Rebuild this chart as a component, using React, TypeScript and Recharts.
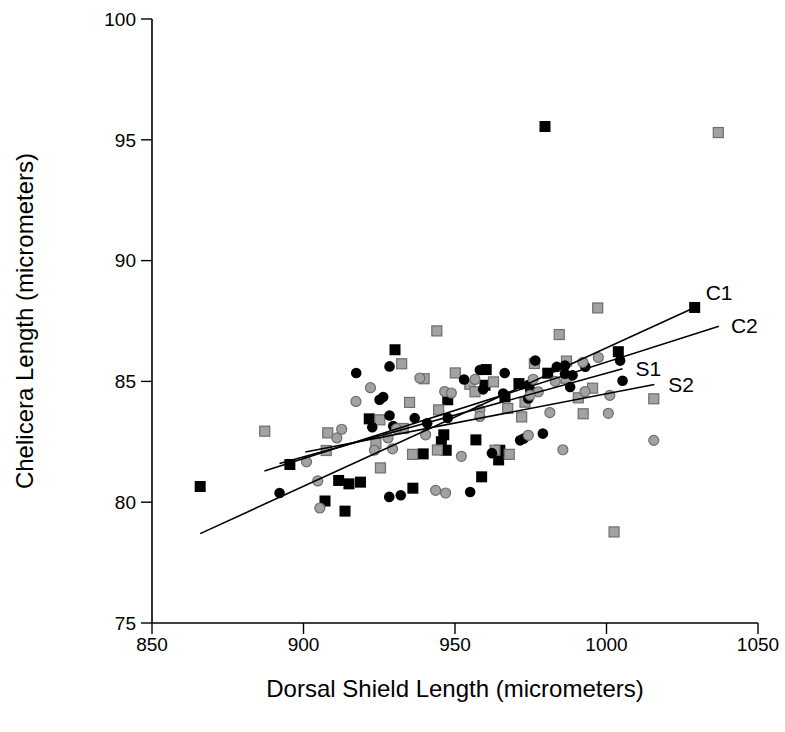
import React from "react";
import { ScatterChart, Scatter, XAxis, YAxis, LabelList } from "recharts";

// C1 group (black squares)
const blackSquares: [number, number][] = [
  [865.9, 80.65], [895.5, 81.56], [907.1, 80.05], [911.6, 80.9], [913.7, 79.63],
  [915.0, 80.76], [918.8, 80.83], [921.7, 83.45], [930.2, 86.31], [936.1, 80.58],
  [939.5, 82.0], [946.3, 82.79], [945.5, 82.5], [947.1, 82.15], [947.6, 84.24],
  [956.9, 82.58], [958.8, 81.05], [960.3, 85.49], [959.9, 84.84], [964.8, 82.15],
  [964.4, 81.75], [966.5, 84.36], [971.1, 84.91], [979.7, 95.55], [980.6, 85.34],
  [1003.9, 86.23], [1029.1, 88.06],
];

// C2 group (grey squares)
const greySquares: [number, number][] = [
  [887.2, 82.94], [908.0, 82.87], [907.5, 82.14], [925.4, 81.42], [923.9, 82.43],
  [925.2, 83.41], [932.9, 83.05], [932.4, 85.73], [935.0, 84.13], [939.8, 85.11],
  [944.0, 87.09], [944.6, 83.82], [936.0, 81.98], [944.2, 82.16], [950.1, 85.35],
  [954.9, 84.88], [956.6, 84.57], [962.7, 84.98], [967.4, 83.88], [972.0, 83.53],
  [973.1, 84.14], [976.2, 85.74], [963.2, 82.15], [967.9, 81.98], [986.8, 85.84],
  [986.7, 85.13], [984.4, 86.94], [997.1, 88.04], [995.4, 84.72], [990.7, 84.32],
  [992.3, 83.66], [1015.6, 84.28], [1002.5, 78.77], [1036.9, 95.3],
];

// S1 group (black circles)
const blackCircles: [number, number][] = [
  [892.1, 80.38], [917.4, 85.35], [928.4, 85.62], [925.1, 84.24], [926.3, 84.35],
  [928.4, 83.59], [922.7, 83.1], [929.6, 83.15], [936.7, 83.48], [940.8, 83.27],
  [928.3, 80.22], [932.1, 80.29], [955.0, 80.42], [953.0, 85.08], [958.2, 85.47],
  [966.4, 85.35], [959.3, 84.67], [965.9, 84.5], [947.6, 83.49], [962.2, 82.03],
  [971.5, 82.56], [972.6, 82.63], [976.5, 85.86], [974.2, 84.85], [974.8, 84.66],
  [974.2, 84.29], [983.6, 85.6], [986.3, 85.66], [986.3, 85.32], [988.8, 85.25],
  [988.0, 84.77], [993.0, 85.61], [1004.5, 85.86], [1005.3, 85.03], [979.0, 82.84],
];

// S2 group (grey circles)
const greyCircles: [number, number][] = [
  [901.0, 81.67], [904.7, 80.88], [905.4, 79.76], [911.0, 82.66], [912.6, 83.02],
  [917.3, 84.17], [922.1, 84.74], [923.4, 82.15], [927.9, 82.66], [929.4, 82.21],
  [930.7, 83.04], [938.4, 85.14], [940.3, 82.79], [943.6, 80.49], [946.9, 80.38],
  [946.6, 84.58], [948.8, 84.52], [952.1, 81.9], [956.6, 85.08], [958.2, 83.82],
  [958.2, 83.55], [974.2, 82.77], [975.8, 85.09], [977.5, 84.57], [974.8, 84.43],
  [981.3, 83.71], [983.1, 85.0], [985.6, 82.17], [992.2, 85.79], [997.3, 85.99],
  [992.9, 84.58], [1001.1, 84.42], [1000.6, 83.68], [1015.6, 82.56],
];

// fitted lines, start and end points
const lineC1: [number, number][] = [[865.9, 78.7], [1029.1, 88.06]];
const lineC2: [number, number][] = [[887.1, 81.29], [1037.1, 87.28]];
const lineS1: [number, number][] = [[892.1, 81.6], [1005.3, 85.52]];
const lineS2: [number, number][] = [[900.6, 82.08], [1015.8, 84.87]];

const xTicks = [850, 900, 950, 1000, 1050];
const yTicks = [75, 80, 85, 90, 95, 100];

const toPts = (arr: [number, number][]) => arr.map(([x, y]) => ({ x, y }));

const FONT = "'Liberation Sans', Arial, Helvetica, sans-serif";
const GREY = "#a2a2a2";
const GREY_EDGE = "#6e6e6e";

const BlackSquare = (p: any) => (
  <rect x={p.cx - 5.5} y={p.cy - 5.5} width={11} height={11} fill="#000" />
);
const GreySquare = (p: any) => (
  <rect x={p.cx - 5} y={p.cy - 5} width={10} height={10} fill={GREY} stroke={GREY_EDGE} strokeWidth={1.2} />
);
const BlackCircle = (p: any) => <circle cx={p.cx} cy={p.cy} r={5.3} fill="#000" />;
const GreyCircle = (p: any) => (
  <circle cx={p.cx} cy={p.cy} r={5} fill={GREY} stroke={GREY_EDGE} strokeWidth={1.2} />
);
const NoDot = () => <g />;

// label drawn next to the end point of a fitted line
const endLabel = (text: string, dx: number, dy: number) => (props: any) => {
  if (props.index !== 1) return null;
  return (
    <text
      x={props.x + props.width / 2 + dx}
      y={props.y + props.height / 2 + dy}
      fontSize={21}
      fontFamily={FONT}
      fill="#000"
      dominantBaseline="central"
    >
      {text}
    </text>
  );
};

const YTitle = (props: any) => {
  const vb = props.viewBox;
  const cy = vb.y + vb.height / 2;
  return (
    <text
      x={24}
      y={cy}
      transform={`rotate(-90, 24, ${cy})`}
      textAnchor="middle"
      dominantBaseline="central"
      fontSize={24}
      fontFamily={FONT}
      fill="#000"
    >
      Chelicera Length (micrometers)
    </text>
  );
};

export default function App() {
  const lineStyle = { stroke: "#000", strokeWidth: 1.6 };
  return (
    <div style={{ position: "absolute", left: 0, top: 0, background: "#fff" }}>
      <ScatterChart width={785} height={732} margin={{ top: 19, right: 27, bottom: 29, left: 52 }}>
        <XAxis
          type="number"
          dataKey="x"
          domain={[850, 1050]}
          ticks={xTicks}
          allowDataOverflow
          height={80}
          tickSize={11}
          tickMargin={4}
          axisLine={{ stroke: "#000", strokeWidth: 1.6 }}
          tickLine={{ stroke: "#000", strokeWidth: 1.4 }}
          tick={{ fill: "#000", fontSize: 19, fontFamily: FONT }}
          label={{
            value: "Dorsal Shield Length (micrometers)",
            position: "insideBottom",
            offset: 6,
            fill: "#000",
            fontSize: 24,
            fontFamily: FONT,
          }}
        />
        <YAxis
          type="number"
          dataKey="y"
          domain={[75, 100]}
          ticks={yTicks}
          allowDataOverflow
          width={100}
          tickSize={11}
          tickMargin={5}
          axisLine={{ stroke: "#000", strokeWidth: 1.6 }}
          tickLine={{ stroke: "#000", strokeWidth: 1.4 }}
          tick={{ fill: "#000", fontSize: 19, fontFamily: FONT }}
          label={{ content: YTitle }}
        />
        <Scatter data={toPts(blackSquares)} shape={BlackSquare} isAnimationActive={false} />
        <Scatter data={toPts(greySquares)} shape={GreySquare} isAnimationActive={false} />
        <Scatter data={toPts(blackCircles)} shape={BlackCircle} isAnimationActive={false} />
        <Scatter data={toPts(greyCircles)} shape={GreyCircle} isAnimationActive={false} />
        <Scatter data={toPts(lineC1)} line={lineStyle} shape={NoDot} isAnimationActive={false}>
          <LabelList dataKey="y" content={endLabel("C1", 11, -15)} />
        </Scatter>
        <Scatter data={toPts(lineC2)} line={lineStyle} shape={NoDot} isAnimationActive={false}>
          <LabelList dataKey="y" content={endLabel("C2", 12, -1)} />
        </Scatter>
        <Scatter data={toPts(lineS1)} line={lineStyle} shape={NoDot} isAnimationActive={false}>
          <LabelList dataKey="y" content={endLabel("S1", 13, 0)} />
        </Scatter>
        <Scatter data={toPts(lineS2)} line={lineStyle} shape={NoDot} isAnimationActive={false}>
          <LabelList dataKey="y" content={endLabel("S2", 14, 0)} />
        </Scatter>
      </ScatterChart>
    </div>
  );
}
